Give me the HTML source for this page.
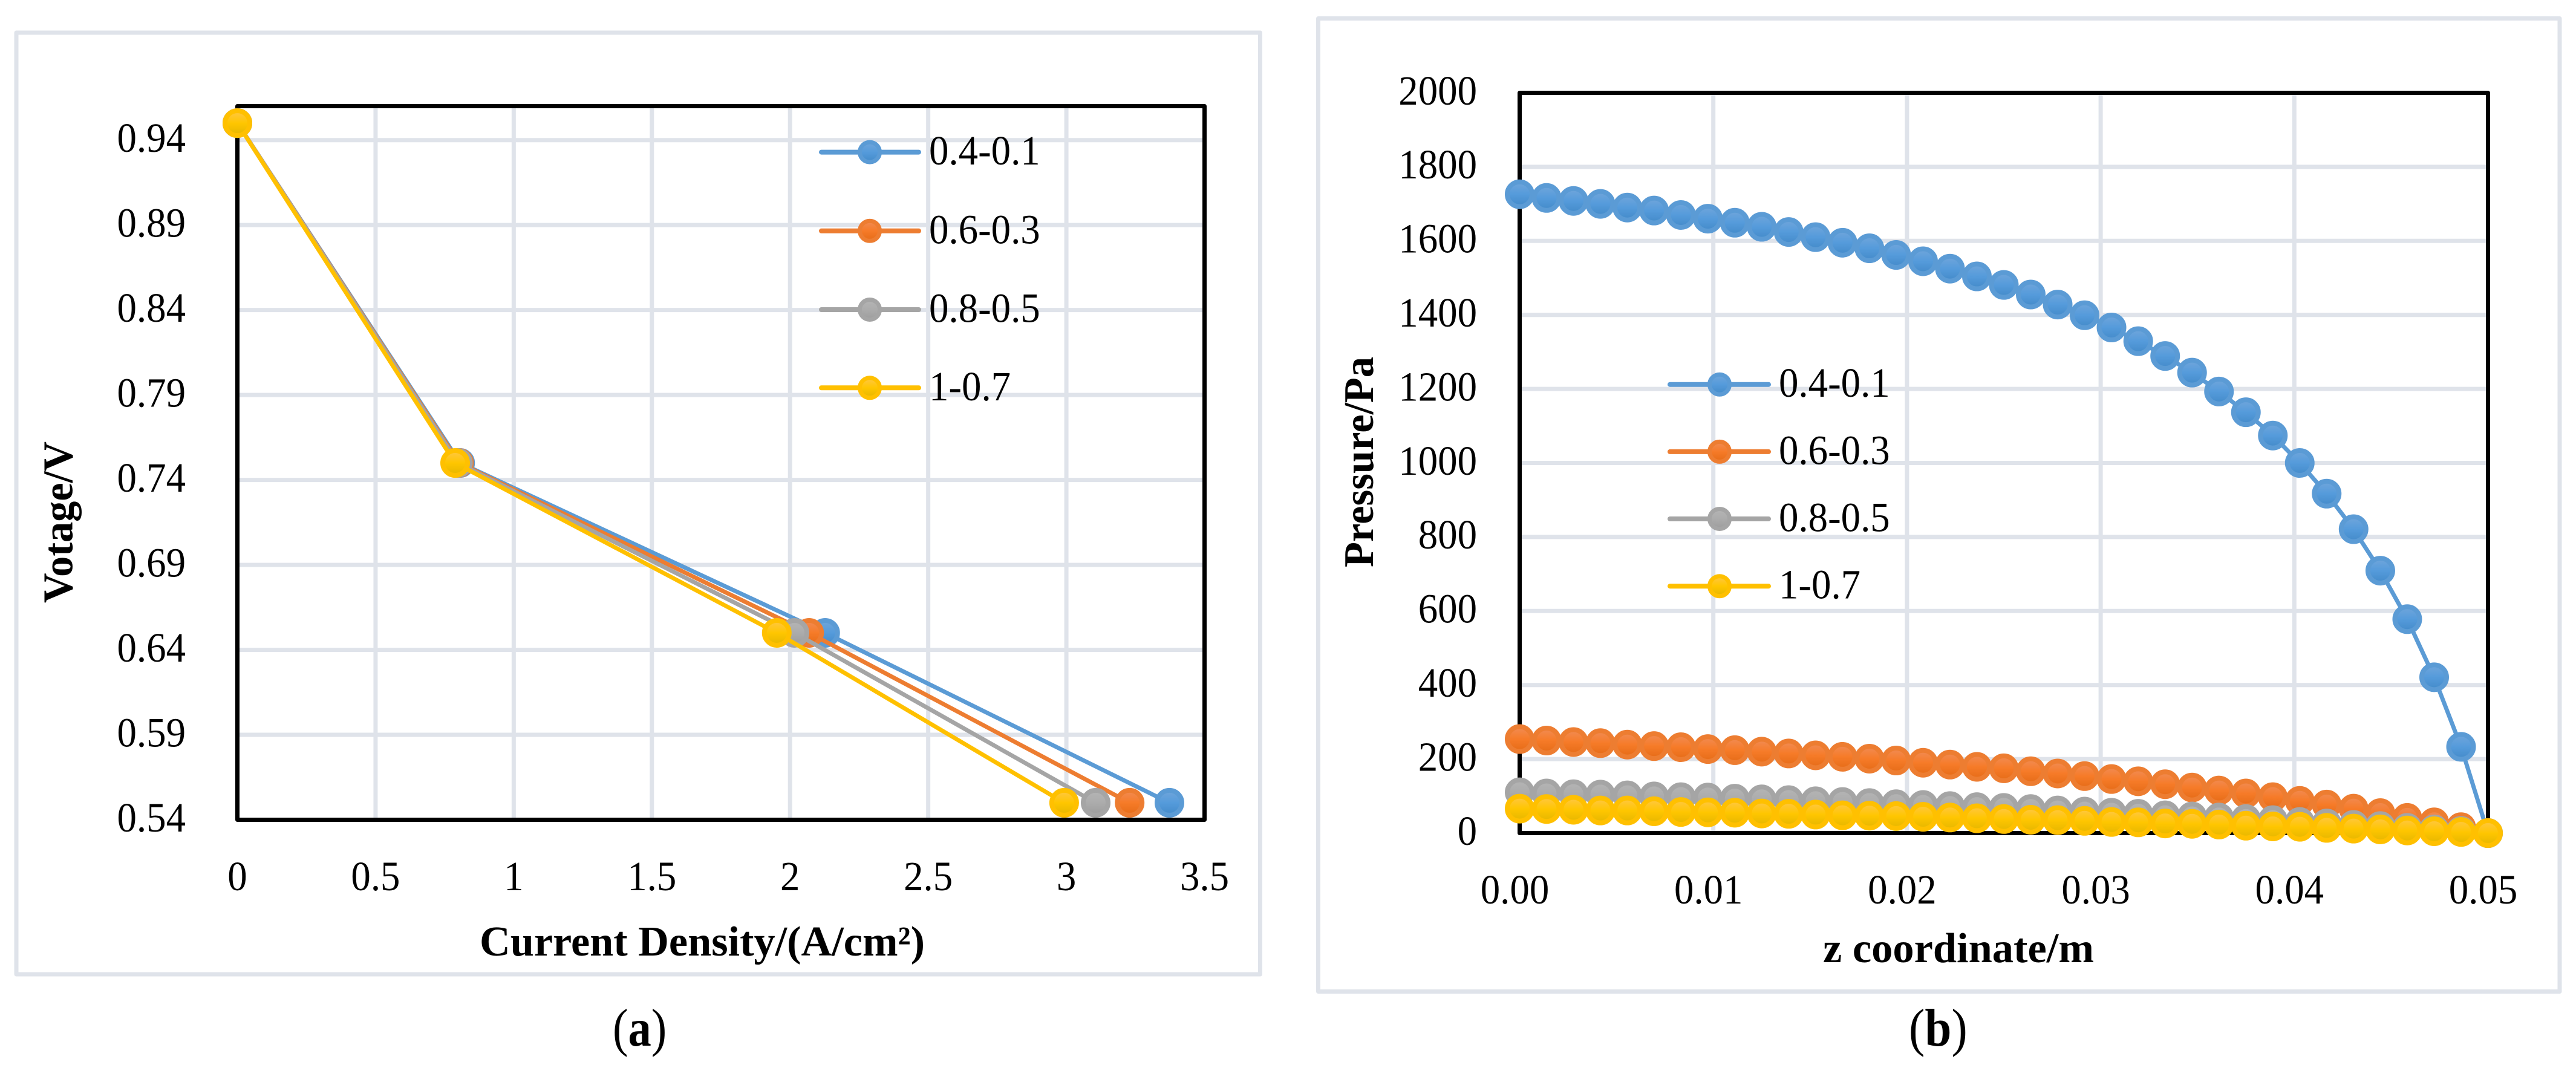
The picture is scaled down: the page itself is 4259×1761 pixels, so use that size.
<!DOCTYPE html>
<html lang="en">
<head>
<meta charset="utf-8">
<title>Fuel cell polarization and pressure charts</title>
<style>
html,body{margin:0;padding:0;background:#fff;}
svg{display:block;}
text{font-family:"Liberation Serif",serif;fill:#000;}
</style>
</head>
<body>
<svg id="figure" xmlns="http://www.w3.org/2000/svg" width="4259" height="1761" viewBox="0 0 4259 1761">
  <defs>
    <linearGradient id="grad-blue" x1="0" y1="0" x2="0" y2="1"><stop offset="0" stop-color="#71A6DB"/><stop offset="0.5" stop-color="#559BDB"/><stop offset="1" stop-color="#438AC9"/></linearGradient>
    <linearGradient id="grad-orange" x1="0" y1="0" x2="0" y2="1"><stop offset="0" stop-color="#F18C55"/><stop offset="0.5" stop-color="#F67B28"/><stop offset="1" stop-color="#E56B17"/></linearGradient>
    <linearGradient id="grad-gray" x1="0" y1="0" x2="0" y2="1"><stop offset="0" stop-color="#B5B5B5"/><stop offset="0.5" stop-color="#ACACAC"/><stop offset="1" stop-color="#9C9C9C"/></linearGradient>
    <linearGradient id="grad-yellow" x1="0" y1="0" x2="0" y2="1"><stop offset="0" stop-color="#FFC746"/><stop offset="0.5" stop-color="#FFC600"/><stop offset="1" stop-color="#E5B600"/></linearGradient>
  </defs>
  <rect x="0" y="0" width="4259" height="1761" fill="#ffffff"/>
  <g id="chart-a"></g>
  <g id="chart-b"></g>
  <text transform="translate(1013,1729) scale(0.87,1)" font-size="88">(<tspan font-weight="bold">a</tspan>)</text>
  <text transform="translate(3156,1729) scale(0.9,1)" font-size="88">(<tspan font-weight="bold">b</tspan>)</text>
</svg>
<script>
// Shared series
const seriesNames = ['0.4-0.1', '0.6-0.3', '0.8-0.5', '1-0.7'];
const seriesKeys = ['blue', 'orange', 'gray', 'yellow'];
const seriesColors = ['#5B9BD5', '#ED7D31', '#A5A5A5', '#FFC000'];

// Chart (a): polarization curve
const voltageValues = [0.95, 0.75, 0.65, 0.55];
const currentBlue = [0, 0.806, 2.127, 3.373];
const currentOrange = [0, 0.802, 2.069, 3.229];
const currentGray = [0, 0.798, 2.016, 3.106];
const currentYellow = [0, 0.788, 1.952, 2.992];
const currentTicks = [0, 0.5, 1, 1.5, 2, 2.5, 3, 3.5];
const currentTickLabels = ['0', '0.5', '1', '1.5', '2', '2.5', '3', '3.5'];
const voltageTicks = [0.54, 0.59, 0.64, 0.69, 0.74, 0.79, 0.84, 0.89, 0.94];
const voltageTickLabels = ['0.54', '0.59', '0.64', '0.69', '0.74', '0.79', '0.84', '0.89', '0.94'];

// Chart (b): pressure along z
const zValues = [0, 0.00139, 0.00278, 0.00417, 0.00556, 0.00694, 0.00833, 0.00972, 0.01111, 0.0125, 0.01389, 0.01528, 0.01667, 0.01806, 0.01944, 0.02083, 0.02222, 0.02361, 0.025, 0.02639, 0.02778, 0.02917, 0.03056, 0.03194, 0.03333, 0.03472, 0.03611, 0.0375, 0.03889, 0.04028, 0.04167, 0.04306, 0.04444, 0.04583, 0.04722, 0.04861, 0.05];
const pressureBlue = [1726, 1716, 1708, 1700, 1690, 1682, 1670, 1660, 1649, 1638, 1624, 1610, 1595, 1580, 1562, 1545, 1525, 1504, 1481, 1455, 1428, 1399, 1366, 1329, 1289, 1244, 1193, 1137, 1074, 1000, 917, 821, 709, 578, 421, 233, 0];
const pressureOrange = [254, 250, 246, 243, 239, 235, 232, 227, 224, 220, 215, 210, 206, 201, 196, 190, 185, 179, 175, 167, 161, 154, 146, 140, 132, 123, 115, 107, 97, 87, 77, 66, 54, 41, 29, 16, 0];
const pressureGray = [110, 107, 105, 104, 102, 99, 97, 96, 93, 91, 89, 86, 84, 81, 78, 76, 73, 70, 68, 65, 61, 58, 55, 52, 48, 45, 42, 38, 35, 30, 26, 22, 19, 14, 10, 6, 0];
const pressureYellow = [66, 65, 63, 61, 61, 59, 57, 56, 55, 53, 52, 50, 48, 47, 46, 44, 42, 40, 38, 36, 35, 33, 30, 29, 26, 25, 23, 20, 18, 17, 14, 12, 10, 7, 5, 3, 0];
const zTicks = [0, 0.01, 0.02, 0.03, 0.04, 0.05];
const zTickLabels = ['0.00', '0.01', '0.02', '0.03', '0.04', '0.05'];
const pressureTicks = [0, 200, 400, 600, 800, 1000, 1200, 1400, 1600, 1800, 2000];
const pressureTickLabels = ['0', '200', '400', '600', '800', '1000', '1200', '1400', '1600', '1800', '2000'];

const SVG_NS = 'http://www.w3.org/2000/svg';
const GRID_COLOR = '#DFE3EA';

function make(parent, tag, attrs) {
  const el = document.createElementNS(SVG_NS, tag);
  for (const key in attrs) el.setAttribute(key, attrs[key]);
  parent.appendChild(el);
  return el;
}

function linearScale(d0, d1, r0, r1) {
  return function (v) { return r0 + (v - d0) / (d1 - d0) * (r1 - r0); };
}

function drawMarker(parent, cx, cy, r, sw, i, name) {
  const m = make(parent, 'circle', { cx: cx, cy: cy, r: r, fill: 'url(#grad-' + seriesKeys[i] + ')', stroke: seriesColors[i], 'stroke-width': sw });
  
  
}

function tickText(parent, label, x, y, anchor, name) {
  const t = make(parent, 'text', { transform: 'translate(' + x + ',' + y + ') scale(0.94,1)', 'font-size': 69, 'text-anchor': anchor });
  t.textContent = label;
  
  
}

function drawChart(root, cfg) {
  const sx = linearScale(cfg.xMin, cfg.xMax, cfg.left, cfg.right);
  const sy = linearScale(cfg.yMin, cfg.yMax, cfg.bottom, cfg.top);

  const frame = make(root, 'rect', { x: cfg.frame[0], y: cfg.frame[1], width: cfg.frame[2] - cfg.frame[0], height: cfg.frame[3] - cfg.frame[1], fill: '#fff', stroke: GRID_COLOR, 'stroke-width': 7, 'stroke-linejoin': 'round' });
  
  

  cfg.xTicks.forEach(function (v, i) {
    const g = make(root, 'line', { x1: sx(v), x2: sx(v), y1: cfg.top, y2: cfg.bottom, stroke: GRID_COLOR, 'stroke-width': 7 });
    
    
    tickText(root, cfg.xLabels[i], sx(v) + cfg.xLabelOffset, cfg.xLabelY, 'middle', 'x-tick-label');
  });
  cfg.yTicks.forEach(function (v, i) {
    const g = make(root, 'line', { x1: cfg.left, x2: cfg.right, y1: sy(v), y2: sy(v), stroke: GRID_COLOR, 'stroke-width': 7 });
    
    
    tickText(root, cfg.yLabels[i], cfg.yLabelX, sy(v) + 19.3, 'end', 'y-tick-label');
  });

  const border = make(root, 'rect', { x: cfg.left, y: cfg.top, width: cfg.right - cfg.left, height: cfg.bottom - cfg.top, fill: 'none', stroke: '#000', 'stroke-width': 7, 'stroke-linejoin': 'round' });
  
  

  cfg.series.forEach(function (s, i) {
    const g = make(root, 'g', {});
    
    
    const pts = s.x.map(function (x, k) { return sx(x).toFixed(2) + ',' + sy(s.y[k]).toFixed(2); }).join(' ');
    const line = make(g, 'polyline', { points: pts, fill: 'none', stroke: seriesColors[i], 'stroke-width': 7, 'stroke-linejoin': 'round', 'stroke-linecap': 'round' });
    
    
    s.x.forEach(function (x, k) {
      drawMarker(g, sx(x), sy(s.y[k]), 20.5, 8, i, 'data-point');
    });
  });

  seriesNames.forEach(function (name, i) {
    const y = cfg.legendY[i];
    const g = make(root, 'g', {});
    
    
    const l = make(g, 'line', { x1: cfg.legendLine[0], x2: cfg.legendLine[1], y1: y, y2: y, stroke: seriesColors[i], 'stroke-width': 8, 'stroke-linecap': 'round' });
    
    
    drawMarker(g, cfg.legendMarker, y, 16.5, 7, i, 'legend-marker');
    tickText(g, name, cfg.legendText, y + 20.5, 'start', 'legend-label');
  });

  const xt = make(root, 'text', { x: cfg.xTitle[0], y: cfg.xTitle[1], textLength: cfg.xTitle[2], lengthAdjust: 'spacingAndGlyphs', 'font-size': 70, 'font-weight': 'bold' });
  xt.textContent = cfg.xTitleText;
  
  

  const yt = make(root, 'text', { transform: 'translate(' + cfg.yTitle[0] + ',' + cfg.yTitle[1] + ') rotate(-90)', textLength: cfg.yTitle[2], lengthAdjust: 'spacingAndGlyphs', 'font-size': 70, 'font-weight': 'bold' });
  yt.textContent = cfg.yTitleText;
  
  
}

drawChart(document.getElementById('chart-a'), {
  frame: [27, 54, 2083.5, 1611],
  left: 392.5, right: 1991.5, top: 175.5, bottom: 1355.5,
  xMin: 0, xMax: 3.5, yMin: 0.54, yMax: 0.96,
  xTicks: currentTicks, xLabels: currentTickLabels, xLabelOffset: 0, xLabelY: 1472,
  yTicks: voltageTicks, yLabels: voltageTickLabels, yLabelX: 307,
  series: [
    { x: currentBlue, y: voltageValues },
    { x: currentOrange, y: voltageValues },
    { x: currentGray, y: voltageValues },
    { x: currentYellow, y: voltageValues }
  ],
  legendY: [251.6, 381.8, 512, 641.3],
  legendLine: [1358, 1519], legendMarker: 1438, legendText: 1536,
  xTitle: [793, 1580, 736], xTitleText: 'Current Density/(A/cm²)',
  yTitle: [119.5, 997, 267], yTitleText: 'Votage/V'
});

drawChart(document.getElementById('chart-b'), {
  frame: [2179.5, 30.5, 4232, 1639.5],
  left: 2512.5, right: 4113.5, top: 153.5, bottom: 1377.5,
  xMin: 0, xMax: 0.05, yMin: 0, yMax: 2000,
  xTicks: zTicks, xLabels: zTickLabels, xLabelOffset: -8, xLabelY: 1494,
  yTicks: pressureTicks, yLabels: pressureTickLabels, yLabelX: 2442,
  series: [
    { x: zValues, y: pressureBlue },
    { x: zValues, y: pressureOrange },
    { x: zValues, y: pressureGray },
    { x: zValues, y: pressureYellow }
  ],
  legendY: [635.7, 746.9, 858, 969.2],
  legendLine: [2761, 2924], legendMarker: 2843, legendText: 2941,
  xTitle: [3014, 1591, 448], xTitleText: 'z coordinate/m',
  yTitle: [2270, 938, 348], yTitleText: 'Pressure/Pa'
});
</script>
</body>
</html>
